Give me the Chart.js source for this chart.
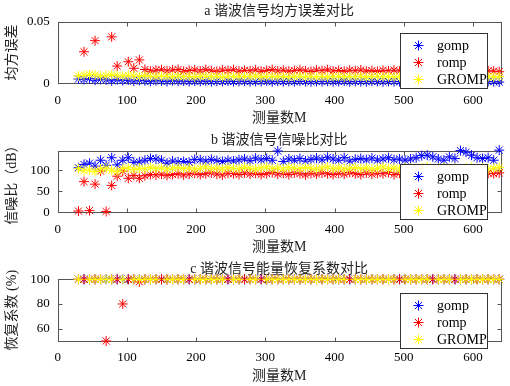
<!DOCTYPE html>
<html>
<head>
<meta charset="utf-8">
<script src="https://cdn.jsdelivr.net/npm/chart.js@4.4.1/dist/chart.umd.min.js"></script>
<style>
  body { margin: 0; background: #fff; }
  canvas { position: absolute; left: 0; }
</style>
</head>
<body>
<canvas id="mseChart" width="510" height="128" style="top:0px"></canvas>
<canvas id="snrChart" width="510" height="129" style="top:128px"></canvas>
<canvas id="recChart" width="510" height="129" style="top:257px"></canvas>
<script>
// measurement counts M
const M = [30, 38, 46, 54, 62, 70, 78, 86, 94, 102,
    110, 118, 126, 134, 142, 150, 158, 166, 174, 182,
    190, 198, 206, 214, 222, 230, 238, 246, 254, 262,
    270, 278, 286, 294, 302, 310, 318, 326, 334, 342,
    350, 358, 366, 374, 382, 390, 398, 406, 414, 422,
    430, 438, 446, 454, 462, 470, 478, 486, 494, 502,
    510, 518, 526, 534, 542, 550, 558, 566, 574, 582,
    590, 598, 606, 614, 622, 630, 638];

const seriesNames = ['gomp', 'romp', 'GROMP'];
const xTicks = [0, 100, 200, 300, 400, 500, 600];

// a: mean square error
const mseGomp = [0.0035, 0.0030, 0.0038, 0.0025, 0.0032, 0.0028, 0.0020, 0.0030, 0.0022, 0.0027,
    0.0018, 0.0024, 0.0020, 0.0016, 0.0022, 0.0019, 0.0015, 0.0021, 0.0017, 0.0019,
    0.0014, 0.0018, 0.0016, 0.0020, 0.0013, 0.0017, 0.0015, 0.0019, 0.0014, 0.0016,
    0.0018, 0.0013, 0.0016, 0.0015, 0.0019, 0.0012, 0.0017, 0.0014, 0.0016, 0.0013,
    0.0018, 0.0015, 0.0012, 0.0016, 0.0014, 0.0017, 0.0013, 0.0015, 0.0018, 0.0012,
    0.0016, 0.0014, 0.0013, 0.0017, 0.0015, 0.0012, 0.0016, 0.0014, 0.0013, 0.0015,
    0.0012, 0.0016, 0.0013, 0.0015, 0.0011, 0.0014, 0.0016, 0.0012, 0.0014, 0.0013,
    0.0015, 0.0011, 0.0014, 0.0012, 0.0015, 0.0013, 0.0010];
const mseRomp = [null, 0.0256, null, 0.0346, null, null, 0.0377, 0.0140, null, 0.0175,
    0.0122, 0.0190, 0.0112, 0.0098, 0.0106, 0.0110, 0.0100, 0.0108, 0.0112, 0.0097,
    0.0104, 0.0109, 0.0099, 0.0111, 0.0102, 0.0096, 0.0108, 0.0103, 0.0110, 0.0098,
    0.0105, 0.0101, 0.0109, 0.0097, 0.0104, 0.0111, 0.0100, 0.0106, 0.0098, 0.0103,
    0.0109, 0.0101, 0.0096, 0.0107, 0.0102, 0.0110, 0.0099, 0.0104, 0.0097, 0.0106,
    0.0101, 0.0108, 0.0098, 0.0103, 0.0096, 0.0105, 0.0100, 0.0107, 0.0099, 0.0102,
    0.0097, 0.0104, 0.0101, 0.0108, 0.0096, 0.0103, 0.0099, 0.0106, 0.0100, 0.0095,
    0.0102, 0.0098, 0.0105, 0.0097, 0.0101, 0.0099, 0.0094];
const mseGromp = [0.0060, 0.0065, 0.0072, 0.0068, 0.0058, 0.0062, 0.0070, 0.0064, 0.0058, 0.0066,
    0.0060, 0.0055, 0.0062, 0.0057, 0.0053, 0.0059, 0.0056, 0.0052, 0.0058, 0.0054,
    0.0057, 0.0051, 0.0055, 0.0058, 0.0053, 0.0056, 0.0050, 0.0054, 0.0057, 0.0052,
    0.0055, 0.0053, 0.0058, 0.0050, 0.0054, 0.0056, 0.0052, 0.0055, 0.0049, 0.0053,
    0.0057, 0.0051, 0.0054, 0.0052, 0.0056, 0.0050, 0.0053, 0.0055, 0.0051, 0.0054,
    0.0052, 0.0056, 0.0049, 0.0053, 0.0055, 0.0051, 0.0054, 0.0050, 0.0053, 0.0056,
    0.0051, 0.0054, 0.0052, 0.0049, 0.0055, 0.0052, 0.0050, 0.0054, 0.0051, 0.0053,
    0.0049, 0.0052, 0.0055, 0.0050, 0.0053, 0.0051, 0.0054];

// b: signal to noise ratio (dB)
const snrGomp = [106, 114, 117, 110, 124, 112, 130, 113, 124, 130,
    119, 120, 124, 128, 127, 124, 117, 122, 120, 121,
    119, 126, 125, 122, 126, 123, 121, 124, 122, 125,
    127, 123, 129, 125, 128, 124, 146, 121, 127, 124,
    128, 122, 126, 129, 125, 131, 127, 124, 130, 122,
    126, 128, 125, 129, 124, 127, 130, 125, 127, 124,
    127, 130, 135, 136, 132, 127, 124, 132, 128, 147,
    143, 136, 130, 128, 130, 124, 148];
const snrRomp = [3, 73, 4, 67, 98, 2, 64, 86, 98, 81,
    88, 81, 87, 90, 89, 91, 88, 90, 92, 89,
    91, 93, 90, 92, 94, 91, 89, 93, 92, 90,
    94, 91, 93, 90, 92, 95, 91, 93, 90, 94,
    92, 89, 93, 91, 94, 92, 90, 93, 91, 95,
    92, 90, 94, 91, 93, 92, 95, 90, 93, 92,
    94, 91, 93, 90, 95, 92, 94, 91, 93, 90,
    94, 92, 95, 91, 93, 92, 94];
const snrGromp = [104, 99, 101, 97, 103, 105, 100, 97, 104, 106,
    102, 105, 103, 107, 104, 106, 103, 105, 107, 104,
    106, 103, 105, 108, 104, 106, 103, 107, 105, 104,
    107, 105, 103, 106, 108, 104, 106, 103, 107, 105,
    104, 107, 105, 103, 106, 108, 104, 106, 103, 105,
    107, 104, 106, 103, 105, 108, 104, 106, 103, 107,
    105, 104, 106, 108, 103, 105, 107, 104, 106, 103,
    105, 107, 104, 106, 103, 105, 107];

// c: energy recovery coefficient (%)
const recGomp = [100, 100, 100, 100, 100, 100, 100, 100, 100, 100,
    100, 100, 100, 100, 100, 100, 100, 100, 100, 100,
    100, 100, 100, 100, 100, 100, 100, 100, 100, 100,
    100, 100, 100, 100, 100, 100, 100, 100, 100, 100,
    100, 100, 100, 100, 100, 100, 100, 100, 100, 100,
    100, 100, 100, 100, 100, 100, 100, 100, 100, 100,
    100, 100, 100, 100, 100, 100, 100, 100, 100, 100,
    100, 100, 100, 100, 100, 100, 100];
const recRomp = [100, 100, 100, 100, 100, 50, 100, 100, 80, 100,
    100, 98, 100, 100, 100, 100, 100, 100, 100, 100,
    100, 100, 100, 100, 100, 100, 100, 100, 100, 100,
    100, 100, 100, 100, 100, 100, 100, 100, 100, 100,
    100, 100, 100, 100, 100, 100, 100, 100, 100, 100,
    100, 100, 100, 100, 100, 100, 100, 100, 100, 100,
    100, 100, 100, 100, 100, 100, 100, 100, 100, 100,
    100, 100, 100, 100, 100, 100, 100];
const recGromp = [100, null, 100, 100, 100, 100, 100, null, 100, null,
    100, 100, 100, 100, 100, null, 100, 100, 100, 100,
    null, 100, 100, 100, 100, 100, 100, null, 100, 100,
    null, 100, 100, null, 100, 100, 100, 100, 100, 100,
    100, 100, 100, 100, 100, 100, 100, 100, 100, null,
    100, 100, 100, 100, 100, 100, 100, 100, null, 100,
    100, 100, 100, 100, null, 100, 100, 100, null, 100,
    100, 100, 100, 100, 100, 100, 100];

const colors = ['#0000ff', '#ff0000', '#ffff00'];
const FONT = '"Liberation Serif", "Noto Sans CJK SC", serif';

Chart.defaults.font.family = FONT;
Chart.defaults.color = '#000';

// matlab-like box, inward ticks, title and legend
const matlabBox = {
    id: 'matlabBox',
    beforeDatasetsDraw(chart, args, opts) {
        const { ctx, chartArea: a, scales: { x, y } } = chart;
        const l = Math.round(a.left) + 0.5, r = Math.round(a.right) + 0.5;
        const t = Math.round(a.top) + 0.5, b = Math.round(a.bottom) + 0.5;
        ctx.save();
        ctx.strokeStyle = '#555';
        ctx.lineWidth = 1;
        ctx.strokeRect(l, t, r - l, b - t);
        ctx.beginPath();
        x.ticks.forEach(tk => {
            const px = Math.round(x.getPixelForValue(tk.value)) + 0.5;
            ctx.moveTo(px, b); ctx.lineTo(px, b - 4);
            ctx.moveTo(px, t); ctx.lineTo(px, t + 4);
        });
        y.ticks.forEach(tk => {
            const py = Math.round(y.getPixelForValue(tk.value)) + 0.5;
            ctx.moveTo(l, py); ctx.lineTo(l + 4, py);
            ctx.moveTo(r, py); ctx.lineTo(r - 4, py);
        });
        ctx.stroke();
        ctx.fillStyle = '#222';
        ctx.font = '14px ' + FONT;
        ctx.textAlign = 'center';
        ctx.textBaseline = 'middle';
        ctx.fillText(opts.title, (a.left + a.right) / 2, a.top - opts.titleGap);
        ctx.restore();
    },
    afterDatasetsDraw(chart, args, opts) {
        const { ctx, chartArea: a } = chart;
        const bw = 87, bh = 55;
        const bx = Math.round(a.right - 13.6 - bw) + 0.5;
        const by = Math.round(a.top + opts.legendTop) + 0.5;
        ctx.save();
        ctx.fillStyle = '#fff';
        ctx.fillRect(bx, by, bw, bh);
        ctx.strokeStyle = '#333';
        ctx.lineWidth = 1;
        ctx.strokeRect(bx, by, bw, bh);
        chart.data.datasets.forEach((ds, i) => {
            const cx = bx + 18, cy = by + 12 + i * 17, rr = 5, d = rr * Math.SQRT1_2;
            ctx.strokeStyle = ds.borderColor;
            ctx.beginPath();
            ctx.moveTo(cx - rr, cy); ctx.lineTo(cx + rr, cy);
            ctx.moveTo(cx, cy - rr); ctx.lineTo(cx, cy + rr);
            ctx.moveTo(cx - d, cy - d); ctx.lineTo(cx + d, cy + d);
            ctx.moveTo(cx - d, cy + d); ctx.lineTo(cx + d, cy - d);
            ctx.stroke();
            ctx.fillStyle = '#000';
            ctx.font = '14px ' + FONT;
            ctx.textAlign = 'left';
            ctx.textBaseline = 'middle';
            ctx.fillText(ds.label, bx + 36.5, cy + 1);
        });
        ctx.restore();
    }
};

function series(i, values) {
    return {
        label: seriesNames[i],
        data: M.map((m, k) => ({ x: m, y: values[k] })),
        pointStyle: 'star',
        pointRadius: 5,
        pointHoverRadius: 5,
        pointBorderWidth: 1,
        borderColor: colors[i],
        backgroundColor: colors[i],
        showLine: false,
        clip: false,
        order: 3 - i
    };
}

function makeChart(id, cfg) {
    const canvas = document.getElementById(id);
    const H = canvas.height;
    return new Chart(canvas, {
        type: 'scatter',
        data: { datasets: [series(0, cfg.values[0]), series(1, cfg.values[1]), series(2, cfg.values[2])] },
        plugins: [matlabBox],
        options: {
            responsive: false,
            animation: false,
            devicePixelRatio: 1,
            layout: { padding: { top: cfg.top, right: 9.4, bottom: 0, left: 0 } },
            plugins: {
                legend: { display: false },
                tooltip: { enabled: false },
                matlabBox: { title: cfg.title, titleGap: cfg.titleGap, legendTop: cfg.legendTop }
            },
            scales: {
                x: {
                    type: 'linear',
                    min: 0,
                    max: 640,
                    grid: { display: false, drawTicks: false },
                    border: { display: false },
                    ticks: { stepSize: 100, padding: 9, maxRotation: 0, font: { size: 13 }, color: '#000', callback: v => String(v) },
                    afterBuildTicks: s => { s.ticks = xTicks.map(v => ({ value: v })); },
                    afterFit: s => { s.height = H - cfg.bottom; },
                    title: { display: true, text: '测量数M', color: '#222', font: { size: 14 }, padding: { top: 0, bottom: 1.6 } }
                },
                y: {
                    type: 'linear',
                    min: cfg.yMin,
                    max: cfg.yMax,
                    grid: { display: false, drawTicks: false },
                    border: { display: false },
                    ticks: { padding: 8, font: { size: 13 }, color: '#000', callback: v => String(v) },
                    afterBuildTicks: s => { s.ticks = cfg.yTicks.map(v => ({ value: v })); },
                    afterFit: s => { s.width = 57.7; },
                    title: { display: true, text: cfg.yTitle, color: '#222', font: { size: 14 }, padding: { top: 3.6, bottom: 0 } }
                }
            }
        }
    });
}

makeChart('mseChart', {
    values: [mseGomp, mseRomp, mseGromp],
    title: 'a 谐波信号均方误差对比', titleGap: 10, legendTop: 11.3,
    top: 21.7, bottom: 83.3,
    yMin: 0, yMax: 0.05, yTicks: [0, 0.05], yTitle: '均方误差'
});
makeChart('snrChart', {
    values: [snrGomp, snrRomp, snrGromp],
    title: 'b 谐波信号信噪比对比', titleGap: 11, legendTop: 13,
    top: 23, bottom: 84.3,
    yMin: 0, yMax: 146, yTicks: [0, 50, 100], yTitle: '信噪比（dB）'
});
makeChart('recChart', {
    values: [recGomp, recRomp, recGromp],
    title: 'c 谐波信号能量恢复系数对比', titleGap: 9.5, legendTop: 13.7,
    top: 22.3, bottom: 84,
    yMin: 50, yMax: 100, yTicks: [60, 80, 100], yTitle: '恢复系数 (%)'
});
</script>
</body>
</html>
